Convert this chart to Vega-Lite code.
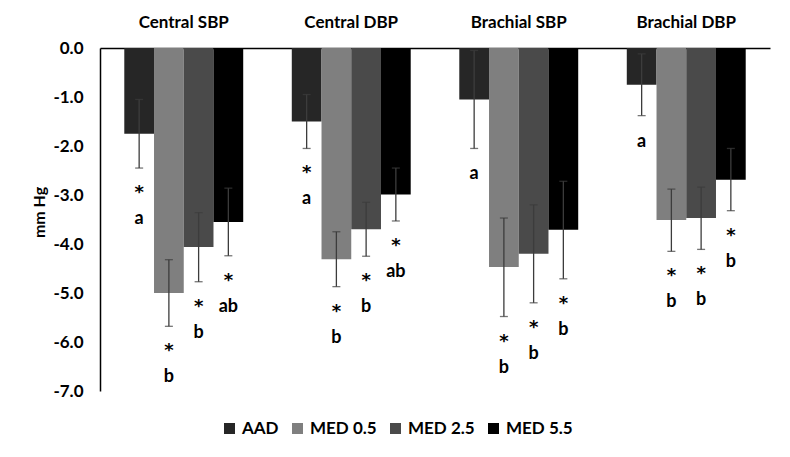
{
  "$schema": "https://vega.github.io/schema/vega-lite/v6.json",
  "width": 670,
  "height": 343,
  "autosize": {"type": "none"},
  "padding": {"left": 100, "top": 48, "right": 20, "bottom": 66},
  "background": "white",
  "config": {"view": {"stroke": null}, "font": "Lato"},
  "data": {
    "values": [
      {"measure": "Central SBP", "series": "AAD", "value": -1.75, "lower": -2.45, "upper": -1.05, "star": "*", "letter": "a"},
      {"measure": "Central SBP", "series": "MED 0.5", "value": -5.0, "lower": -5.68, "upper": -4.32, "star": "*", "letter": "b"},
      {"measure": "Central SBP", "series": "MED 2.5", "value": -4.06, "lower": -4.77, "upper": -3.36, "star": "*", "letter": "b"},
      {"measure": "Central SBP", "series": "MED 5.5", "value": -3.55, "lower": -4.24, "upper": -2.86, "star": "*", "letter": "ab"},
      {"measure": "Central DBP", "series": "AAD", "value": -1.5, "lower": -2.05, "upper": -0.95, "star": "*", "letter": "a"},
      {"measure": "Central DBP", "series": "MED 0.5", "value": -4.31, "lower": -4.87, "upper": -3.75, "star": "*", "letter": "b"},
      {"measure": "Central DBP", "series": "MED 2.5", "value": -3.7, "lower": -4.25, "upper": -3.15, "star": "*", "letter": "b"},
      {"measure": "Central DBP", "series": "MED 5.5", "value": -2.99, "lower": -3.53, "upper": -2.45, "star": "*", "letter": "ab"},
      {"measure": "Brachial SBP", "series": "AAD", "value": -1.05, "lower": -2.05, "upper": -0.05, "star": "", "letter": "a"},
      {"measure": "Brachial SBP", "series": "MED 0.5", "value": -4.47, "lower": -5.48, "upper": -3.47, "star": "*", "letter": "b"},
      {"measure": "Brachial SBP", "series": "MED 2.5", "value": -4.2, "lower": -5.2, "upper": -3.2, "star": "*", "letter": "b"},
      {"measure": "Brachial SBP", "series": "MED 5.5", "value": -3.71, "lower": -4.71, "upper": -2.72, "star": "*", "letter": "b"},
      {"measure": "Brachial DBP", "series": "AAD", "value": -0.75, "lower": -1.38, "upper": -0.12, "star": "", "letter": "a"},
      {"measure": "Brachial DBP", "series": "MED 0.5", "value": -3.51, "lower": -4.15, "upper": -2.88, "star": "*", "letter": "b"},
      {"measure": "Brachial DBP", "series": "MED 2.5", "value": -3.47, "lower": -4.11, "upper": -2.84, "star": "*", "letter": "b"},
      {"measure": "Brachial DBP", "series": "MED 5.5", "value": -2.69, "lower": -3.32, "upper": -2.05, "star": "*", "letter": "b"}
    ]
  },
  "encoding": {
    "x": {
      "field": "measure",
      "type": "nominal",
      "sort": ["Central SBP", "Central DBP", "Brachial SBP", "Brachial DBP"],
      "scale": {"paddingInner": 0.29, "paddingOuter": 0.145},
      "axis": {
        "orient": "top",
        "title": null,
        "labelAngle": 0,
        "ticks": false,
        "domainColor": "black",
        "domainWidth": 1.5,
        "labelFont": "Lato",
        "labelFontSize": 17,
        "labelFontWeight": "bold",
        "labelColor": "black",
        "labelPadding": 17
      }
    },
    "xOffset": {
      "field": "series",
      "type": "nominal",
      "sort": ["AAD", "MED 0.5", "MED 2.5", "MED 5.5"],
      "scale": {"paddingInner": 0, "paddingOuter": 0}
    }
  },
  "layer": [
    {
      "mark": {"type": "bar"},
      "encoding": {
        "y": {
          "field": "value",
          "type": "quantitative",
          "scale": {"domain": [-7, 0], "nice": false},
          "axis": {
            "orient": "left",
            "values": [0, -1, -2, -3, -4, -5, -6, -7],
            "format": ".1f",
            "labelExpr": "replace(datum.label, '\u2212', '-')",
            "grid": false,
            "ticks": false,
            "domainColor": "black",
            "domainWidth": 1.5,
            "labelFont": "Lato",
            "labelFontSize": 17,
            "labelFontWeight": "bold",
            "labelColor": "black",
            "labelPadding": 17,
            "title": "mm Hg",
            "titleFont": "Lato",
            "titleFontSize": 16,
            "titleFontWeight": "bold",
            "titleColor": "black",
            "titlePadding": 5,
            "titleY": 164
          }
        },
        "color": {
          "field": "series",
          "type": "nominal",
          "sort": ["AAD", "MED 0.5", "MED 2.5", "MED 5.5"],
          "scale": {
            "domain": ["AAD", "MED 0.5", "MED 2.5", "MED 5.5"],
            "range": ["#262626", "#7f7f7f", "#4a4a4a", "#000000"]
          },
          "legend": {
            "orient": "none",
            "legendX": 121,
            "legendY": 372,
            "direction": "horizontal",
            "gridAlign": "none",
            "title": null,
            "symbolType": "square",
            "symbolSize": 121,
            "symbolStrokeWidth": 0,
            "labelFont": "Lato",
            "labelFontSize": 17,
            "labelFontWeight": "bold",
            "labelColor": "black",
            "labelOffset": 4,
            "columnPadding": 10
          }
        }
      }
    },
    {
      "mark": {"type": "rule", "color": "#3c3c3c", "strokeWidth": 1.3},
      "encoding": {
        "y": {"field": "lower", "type": "quantitative"},
        "y2": {"field": "upper"}
      }
    },
    {
      "mark": {"type": "tick", "orient": "horizontal", "size": 8, "thickness": 1.3, "color": "#3c3c3c"},
      "encoding": {"y": {"field": "lower", "type": "quantitative"}}
    },
    {
      "mark": {"type": "tick", "orient": "horizontal", "size": 8, "thickness": 1.3, "color": "#3c3c3c"},
      "encoding": {"y": {"field": "upper", "type": "quantitative"}}
    },
    {
      "transform": [{"filter": "datum.star != ''"}],
      "mark": {
        "type": "text",
        "font": "DejaVu Sans",
        "fontSize": 18,
        "fontWeight": "bold",
        "color": "black",
        "baseline": "middle",
        "dy": 25
      },
      "encoding": {
        "y": {"field": "lower", "type": "quantitative"},
        "text": {"field": "star"}
      }
    },
    {
      "transform": [{"filter": "datum.star != ''"}],
      "mark": {
        "type": "text",
        "font": "Lato",
        "fontSize": 18,
        "fontWeight": "bold",
        "color": "black",
        "baseline": "alphabetic",
        "dy": 56
      },
      "encoding": {
        "y": {"field": "lower", "type": "quantitative"},
        "text": {"field": "letter"}
      }
    },
    {
      "transform": [{"filter": "datum.star == ''"}],
      "mark": {
        "type": "text",
        "font": "Lato",
        "fontSize": 18,
        "fontWeight": "bold",
        "color": "black",
        "baseline": "alphabetic",
        "dy": 31
      },
      "encoding": {
        "y": {"field": "lower", "type": "quantitative"},
        "text": {"field": "letter"}
      }
    }
  ]
}
